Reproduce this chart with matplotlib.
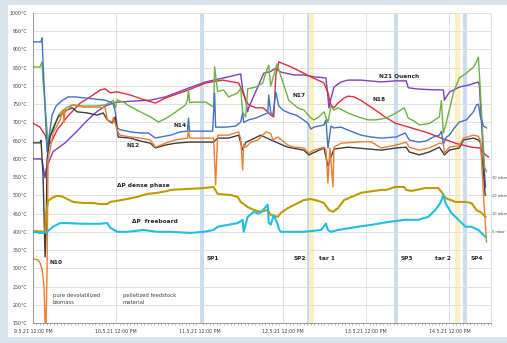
"""Reactor temperature profile and pressure drops over the campaign 9.5.21 - 14.5.21.
"""
import matplotlib
matplotlib.use("Agg")
import matplotlib.pyplot as plt
from matplotlib.patches import Rectangle
from matplotlib.ticker import FixedLocator, MultipleLocator

# Figure geometry
FIG_W, FIG_H, DPI = 5.07, 3.43, 100
AX_POS = [33 / 507, 1 - 323 / 343, (491 - 33) / 507, (323 - 13) / 343]

# Time axis: days after 9.5.21 12:00 PM
X_MAX = 5.5
DAY_LABELS = ["9.5.21 12:00 PM", "10.5.21 12:00 PM", "11.5.21 12:00 PM",
              "12.5.21 12:00 PM", "13.5.21 12:00 PM", "14.5.21 12:00 PM"]

# Temperature series (day, degC)
N14 = [(0, 921), (0.096, 921), (0.108, 932), (0.169, 619), (0.193, 660), (0.229, 720),
       (0.277, 745), (0.349, 760), (0.422, 770), (0.506, 770), (0.627, 767), (0.747, 764),
       (0.867, 761), (0.928, 756), (0.964, 750), (0.988, 728), (1.012, 685), (1.048, 680),
       (1.169, 674), (1.289, 671), (1.386, 671), (1.47, 657), (1.53, 660), (1.651, 665),
       (1.771, 674), (1.855, 676), (1.867, 712), (1.88, 676), (2.012, 676), (2.157, 676),
       (2.181, 780), (2.193, 687), (2.313, 687), (2.434, 690), (2.494, 701), (2.518, 726),
       (2.53, 700), (2.59, 707), (2.675, 712), (2.759, 720), (2.819, 726), (2.831, 775),
       (2.855, 726), (2.88, 720), (2.916, 783), (2.952, 745), (3.0, 734), (3.072, 726),
       (3.157, 720), (3.217, 712), (3.301, 698), (3.337, 682), (3.373, 687), (3.494, 693),
       (3.518, 707), (3.542, 630), (3.578, 690), (3.614, 685), (3.699, 687), (3.783, 679),
       (3.94, 665), (4.06, 660), (4.181, 657), (4.361, 660), (4.47, 671), (4.518, 652),
       (4.627, 646), (4.723, 649), (4.807, 660), (4.88, 665), (4.904, 676), (4.928, 640),
       (4.964, 660), (5.0, 665), (5.06, 685), (5.12, 701), (5.205, 707), (5.289, 729),
       (5.325, 748), (5.349, 750), (5.373, 715), (5.41, 690), (5.446, 685)]

N21 = [(0, 600), (0.096, 600), (0.108, 597), (0.145, 548), (0.157, 572), (0.205, 600),
       (0.241, 620), (0.386, 644), (0.542, 679), (0.627, 700), (0.747, 726), (0.867, 745),
       (0.988, 755), (1.169, 758), (1.41, 761), (1.59, 770), (1.867, 794), (2.072, 811),
       (2.349, 825), (2.494, 833), (2.518, 790), (2.554, 761), (2.578, 729), (2.59, 740),
       (2.675, 785), (2.711, 803), (2.771, 835), (2.855, 840), (2.916, 849), (2.976, 838),
       (3.133, 830), (3.253, 830), (3.373, 825), (3.518, 822), (3.542, 770), (3.554, 740),
       (3.578, 765), (3.614, 797), (3.699, 811), (3.783, 816), (3.94, 816), (4.181, 811),
       (4.361, 814), (4.482, 814), (4.506, 795), (4.602, 792), (4.747, 790), (4.928, 789),
       (4.94, 761), (5.0, 783), (5.12, 797), (5.241, 803), (5.349, 811), (5.361, 800),
       (5.41, 600), (5.434, 523)]

N18 = [(0, 698), (0.084, 687), (0.145, 665), (0.181, 638), (0.229, 650), (0.289, 679),
       (0.41, 715), (0.566, 753), (0.687, 770), (0.807, 789), (0.867, 792), (0.928, 781),
       (1.012, 784), (1.169, 775), (1.349, 761), (1.47, 753), (1.59, 767), (1.867, 789),
       (2.072, 808), (2.277, 816), (2.398, 811), (2.47, 808), (2.518, 783), (2.554, 761),
       (2.59, 748), (2.675, 740), (2.759, 740), (2.795, 734), (2.855, 720), (2.892, 715),
       (2.916, 830), (2.952, 866), (3.12, 850), (3.337, 825), (3.494, 808), (3.542, 781),
       (3.578, 748), (3.614, 740), (3.663, 753), (3.735, 767), (3.783, 772), (3.855, 770),
       (3.94, 760), (4.06, 742), (4.229, 715), (4.349, 698), (4.542, 685), (4.747, 671),
       (4.904, 657), (5.072, 643), (5.265, 632), (5.361, 630), (5.434, 611), (5.47, 605)]

N17 = [(0, 852), (0.084, 852), (0.108, 866), (0.12, 816), (0.181, 645), (0.229, 680),
       (0.325, 726), (0.41, 742), (0.482, 748), (0.6, 745), (0.75, 745), (0.867, 748),
       (0.928, 755), (0.964, 760), (0.988, 740), (1.012, 762), (1.108, 753), (1.133, 748),
       (1.289, 729), (1.41, 715), (1.506, 701), (1.59, 710), (1.711, 728), (1.831, 748),
       (1.855, 761), (1.867, 790), (1.88, 755), (2.072, 756), (2.169, 742), (2.181, 852),
       (2.217, 785), (2.289, 789), (2.349, 770), (2.458, 781), (2.494, 794), (2.518, 726),
       (2.554, 715), (2.578, 792), (2.675, 797), (2.759, 808), (2.795, 835), (2.831, 857),
       (2.855, 800), (2.892, 830), (2.928, 860), (3.0, 811), (3.072, 760), (3.181, 740),
       (3.253, 734), (3.337, 712), (3.373, 707), (3.434, 715), (3.494, 729), (3.542, 700),
       (3.578, 745), (3.614, 734), (3.663, 740), (3.783, 726), (3.904, 715), (4.024, 707),
       (4.12, 707), (4.241, 712), (4.361, 726), (4.458, 740), (4.506, 712), (4.566, 705),
       (4.639, 693), (4.759, 697), (4.88, 715), (4.904, 760), (4.928, 671), (4.964, 700),
       (5.048, 781), (5.12, 822), (5.205, 835), (5.289, 852), (5.325, 866), (5.349, 879),
       (5.386, 730), (5.422, 578), (5.446, 565)]

N12 = [(0, 326), (0.06, 323), (0.084, 315), (0.108, 298), (0.133, 250), (0.145, 150),
       (0.157, 150), (0.169, 300), (0.181, 600), (0.205, 624), (0.241, 671), (0.325, 707),
       (0.361, 735), (0.373, 700), (0.386, 735), (0.41, 734), (0.47, 748), (0.53, 745),
       (0.602, 742), (0.771, 742), (0.867, 740), (0.892, 707), (0.952, 701), (0.964, 713),
       (1.024, 671), (1.048, 665), (1.169, 660), (1.289, 657), (1.41, 652), (1.47, 632),
       (1.59, 643), (1.711, 652), (1.855, 657), (1.867, 680), (1.88, 657), (2.169, 657),
       (2.193, 528), (2.217, 665), (2.349, 665), (2.47, 674), (2.494, 655), (2.518, 570),
       (2.53, 640), (2.554, 632), (2.614, 645), (2.699, 652), (2.759, 665), (2.795, 674),
       (2.855, 670), (2.88, 652), (2.94, 660), (3.06, 638), (3.133, 632), (3.253, 630),
       (3.313, 616), (3.373, 624), (3.494, 632), (3.518, 625), (3.542, 534), (3.566, 630),
       (3.602, 523), (3.614, 632), (3.699, 643), (3.819, 645), (3.94, 647), (4.06, 647),
       (4.181, 630), (4.361, 638), (4.482, 646), (4.518, 632), (4.639, 624), (4.759, 630),
       (4.88, 643), (4.928, 642), (4.94, 616), (5.0, 632), (5.12, 636), (5.169, 657),
       (5.289, 665), (5.349, 662), (5.373, 650), (5.41, 500), (5.446, 372)]

N10 = [(0, 644), (0.084, 644), (0.096, 651), (0.12, 560), (0.145, 331), (0.157, 400),
       (0.169, 600), (0.205, 660), (0.301, 715), (0.41, 734), (0.47, 740), (0.53, 729),
       (0.651, 726), (0.771, 720), (0.843, 726), (0.892, 707), (0.952, 698), (0.988, 715),
       (1.024, 660), (1.169, 657), (1.289, 649), (1.41, 643), (1.47, 630), (1.59, 638),
       (1.711, 643), (1.867, 646), (2.169, 646), (2.217, 657), (2.349, 657), (2.47, 665),
       (2.518, 624), (2.554, 645), (2.735, 665), (2.855, 652), (3.06, 632), (3.253, 624),
       (3.313, 611), (3.494, 630), (3.542, 580), (3.578, 605), (3.614, 627), (3.783, 632),
       (4.181, 624), (4.361, 630), (4.482, 632), (4.518, 619), (4.639, 611), (4.759, 619),
       (4.88, 632), (4.94, 611), (5.0, 624), (5.12, 630), (5.169, 652), (5.289, 657),
       (5.349, 652), (5.373, 645), (5.41, 560), (5.43, 500)]

# Pressure drops (day, mbar)
DP_DENSE = [(0, 0.5), (0.145, 0), (0.157, 10), (0.181, 17), (0.229, 18.6), (0.289, 19.8),
            (0.349, 19.4), (0.41, 18), (0.482, 16.4), (0.602, 15.8), (0.723, 15.8),
            (0.807, 15.2), (0.892, 15.2), (0.928, 16.4), (1.012, 17), (1.133, 18),
            (1.253, 19.2), (1.373, 20.8), (1.494, 21.4), (1.614, 22.4), (1.651, 23),
            (1.892, 23.6), (2.048, 24), (2.169, 24.6), (2.217, 20.8), (2.373, 20.2),
            (2.458, 19.2), (2.494, 16.4), (2.578, 13.6), (2.651, 12), (2.735, 11),
            (2.819, 12), (2.855, 9.2), (2.94, 8.2), (2.976, 10.4), (3.06, 13),
            (3.181, 15.8), (3.253, 17.4), (3.337, 18), (3.422, 17), (3.494, 15.8),
            (3.554, 12), (3.602, 11), (3.663, 13), (3.735, 17.4), (3.94, 21.4),
            (4.181, 23), (4.241, 23), (4.349, 24.6), (4.458, 24.6), (4.482, 23),
            (4.542, 22.4), (4.711, 24), (4.867, 24), (4.904, 22), (4.952, 18.6),
            (5.072, 16.4), (5.193, 16.4), (5.265, 15.8), (5.325, 12), (5.386, 10.4),
            (5.434, 8.2)]

DP_FREEBOARD = [(0, 0), (0.084, -0.6), (0.12, -0.6), (0.169, 0), (0.241, 2.8), (0.325, 4.8),
                (0.41, 4.8), (0.602, 4.4), (0.807, 4.4), (0.892, 4.8), (0.928, 2.2),
                (1.012, 0), (1.133, 0), (1.325, 1), (1.494, 0), (1.651, 0), (1.892, -0.6),
                (2.048, 0), (2.169, 1), (2.217, 2.8), (2.458, 4.8), (2.518, 6.6), (2.53, 0),
                (2.578, 8.2), (2.651, 11), (2.699, 10), (2.735, 10.6), (2.795, 13.6),
                (2.819, 15), (2.831, 5), (2.855, 4), (2.892, 9.2), (2.94, 4), (2.952, 1.6),
                (2.976, 0), (3.253, 0), (3.458, 1), (3.518, 4.5), (3.542, 1), (3.578, 0),
                (3.663, 1), (3.904, 2.8), (4.06, 3.8), (4.265, 5.4), (4.47, 6.6),
                (4.627, 6.6), (4.747, 8.2), (4.831, 12), (4.892, 15.8), (4.928, 20.2),
                (4.952, 15.8), (5.024, 10.4), (5.108, 6.6), (5.193, 2.8), (5.265, 2.8),
                (5.349, 1), (5.434, -2.8)]

# Sampling and tar measurement windows (start day, end day)
BLUE_BANDS = [(2.0, 2.05), (3.29, 3.31), (4.33, 4.38), (5.165, 5.215)]
YELLOW_BANDS = [(3.31, 3.37), (5.07, 5.13)]

SERIES = [(N21, "#7f3fbf"), (N18, "#d9303c"), (N17, "#6cb33f"), (N14, "#4472c4"),
          (N10, "#3d3d3d"), (N12, "#ed7d31")]


def unzip(points):
    return [p[0] for p in points], [p[1] for p in points]


fig = plt.figure(figsize=(FIG_W, FIG_H), dpi=DPI, facecolor="#d8e5ed")

# White card behind the chart
bg = fig.add_axes([8 / 507, 1 - 337 / 343, 1 - 8 / 507, (337 - 5) / 343], zorder=-10)
bg.add_patch(Rectangle((0, 0), 1, 1, transform=bg.transAxes, facecolor="white", edgecolor="none"))
bg.axis("off")

ax = fig.add_axes(AX_POS, zorder=1)
ax.set_facecolor("none")
ax.set_xlim(0, X_MAX)
ax.set_ylim(150, 1000)

for a, b in BLUE_BANDS:
    ax.axvspan(a, b, color="#c9dcf0", lw=0, zorder=0)
for a, b in YELLOW_BANDS:
    ax.axvspan(a, b, color="#fbf0c0", lw=0, zorder=0)

for data, color in SERIES:
    x, y = unzip(data)
    ax.plot(x, y, color=color, lw=1.0, zorder=3)

# Pressure drops share the plot on a second scale: 0 mbar sits on 400 degC
ax2 = ax.twinx()
ax2.set_ylim(-50, 120)
x, y = unzip(DP_DENSE)
ax2.plot(x, y, color="#bf9b00", lw=1.5, zorder=3)
x, y = unzip(DP_FREEBOARD)
ax2.plot(x, y, color="#22bde2", lw=1.5, zorder=3)

# Axes formatting
ax.yaxis.set_major_locator(MultipleLocator(50))
ax.set_yticklabels([f"{int(t)}°C" for t in ax.get_yticks()])
ax.xaxis.set_major_locator(FixedLocator(range(6)))
ax.xaxis.set_minor_locator(MultipleLocator(1 / 24))
ax.set_xticklabels(DAY_LABELS)
ax.grid(True, which="major", color="#dcdcdc", lw=0.6)
ax.set_axisbelow(True)
ax.tick_params(axis="y", length=0, pad=4, labelsize=3.4, colors="#404040")
ax.tick_params(axis="x", which="major", length=0, pad=4, labelsize=3.4, colors="#404040")
ax.tick_params(axis="x", which="minor", length=1.5, width=0.4, color="#7f7f7f", direction="out")
ax.spines["top"].set_visible(False)
ax.spines["left"].set_color("#9a9a9a")
ax.spines["left"].set_linewidth(0.7)
ax.spines["bottom"].set_color("#8a8a8a")
ax.spines["bottom"].set_linewidth(0.6)
ax.spines["right"].set_color("#dcdcdc")
ax.spines["right"].set_linewidth(0.6)

ax2.set_yticks([0, 10, 20, 30])
ax2.set_yticklabels([f"{v} mbar" for v in [0, 10, 20, 30]])
ax2.tick_params(axis="y", length=0, pad=0.8, labelsize=2.5, colors="#404040")
for side in ["top", "left", "bottom", "right"]:
    ax2.spines[side].set_visible(False)

# Annotations
bold = dict(fontsize=4.2, fontweight="bold", color="#262626", zorder=5)
ax.text(0.2, 312, "N10", **bold)
ax.text(1.12, 633, "N12", **bold)
ax.text(1.69, 687, "N14", **bold)
ax.text(3.12, 770, "N17", **bold)
ax.text(4.08, 759, "N18", **bold)
ax.text(4.16, 822, "N21 Quench", **bold)
ax.text(1.01, 523, "ΔP dense phase", **bold)
ax.text(1.19, 424, "ΔP  freeboard", **bold)
for xpos, label in [(2.09, "SP1"), (3.13, "SP2"), (3.43, "tar 1"),
                    (4.42, "SP3"), (4.83, "tar 2"), (5.26, "SP4")]:
    ax.text(xpos, 323, label, **bold)

plain = dict(fontsize=3.8, color="#404040", zorder=5, linespacing=1.5)
ax.text(0.24, 232, "pure devolatilized\nbiomass", va="top", **plain)
ax.text(1.08, 232, "pelletized feedstock\nmaterial", va="top", **plain)

fig.savefig("out.png", dpi=DPI, facecolor=fig.get_facecolor())
